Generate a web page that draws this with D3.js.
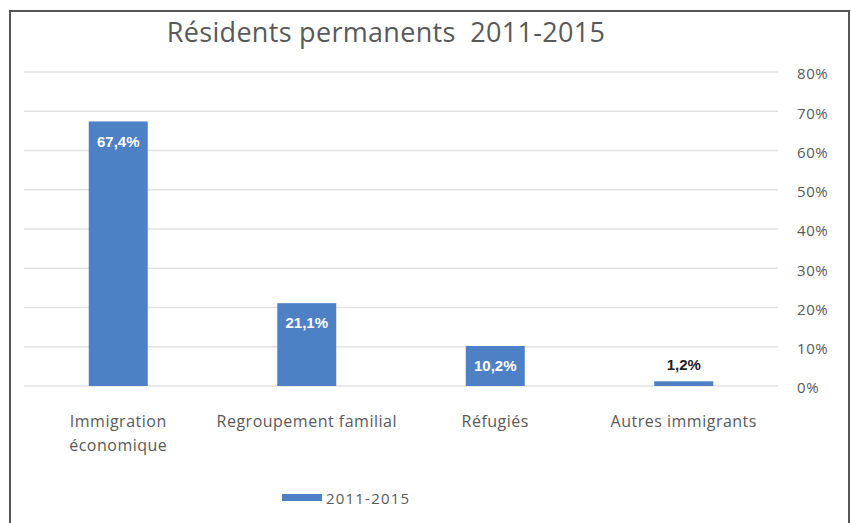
<!DOCTYPE html>
<html>
<head>
<meta charset="utf-8">
<script src="https://cdn.jsdelivr.net/npm/d3@7"></script>
<style>
  body { margin: 0; background: #fff; }
  text { font-family: "Open Sans", "Noto Sans", sans-serif; }
</style>
</head>
<body>
<div id="chart"></div>
<script>
// chart data
var categories = ["Immigration\néconomique", "Regroupement familial", "Réfugiés", "Autres immigrants"];
var values = [67.4, 21.1, 10.2, 1.2];
var valueLabels = ["67,4%", "21,1%", "10,2%", "1,2%"];
var tickValues = [0, 10, 20, 30, 40, 50, 60, 70, 80];
var seriesName = "2011-2015";
var title = "Résidents permanents\u00a0\u00a02011-2015";

var W = 851, H = 523;
var barColor = "#4e80c6";
var textColor = "#595959";

var svg = d3.select("#chart").append("svg")
  .attr("width", W)
  .attr("height", H);

// outer frame
svg.append("rect")
  .attr("x", 10).attr("y", 11)
  .attr("width", 839).attr("height", 530)
  .attr("fill", "none")
  .attr("stroke", "#555")
  .attr("stroke-width", 2);

// scales
var x = d3.scaleBand()
  .domain(categories)
  .range([24, 778])
  .paddingInner(0.687)
  .paddingOuter(0.3435);

var y = d3.scaleLinear()
  .domain([0, 80])
  .range([386, 72]);

// gridlines
svg.append("g")
  .selectAll("line")
  .data(tickValues)
  .enter().append("line")
    .attr("x1", 24).attr("x2", 778)
    .attr("y1", function(d) { return y(d); })
    .attr("y2", function(d) { return y(d); })
    .attr("stroke", "#e2e2e2")
    .attr("stroke-width", 1.5);

// right axis (labels only)
var yAxis = svg.append("g")
  .attr("transform", "translate(792,0)")
  .call(d3.axisRight(y).tickValues(tickValues).tickSize(0).tickFormat(function(d) { return d + "%"; }));
yAxis.select(".domain").remove();
yAxis.selectAll("text")
  .attr("x", 5)
  .attr("dy", "0.45em")
  .style("font-size", "15px")
  .style("letter-spacing", "0.6px")
  .style("fill", textColor)
  .style("font-family", "'Open Sans', sans-serif");

// bars
svg.append("g")
  .selectAll("rect")
  .data(values)
  .enter().append("rect")
    .attr("x", function(d, i) { return x(categories[i]); })
    .attr("width", x.bandwidth())
    .attr("y", function(d) { return y(d); })
    .attr("height", function(d) { return y(0) - y(d); })
    .attr("fill", barColor);

// value labels: inside the bar when tall enough, otherwise above
svg.append("g")
  .selectAll("text")
  .data(values)
  .enter().append("text")
    .attr("x", function(d, i) { return x(categories[i]) + x.bandwidth() / 2; })
    .attr("y", function(d) { return (y(0) - y(d) > 30) ? y(d) + 20 : y(d) - 17; })
    .attr("dy", "0.35em")
    .attr("text-anchor", "middle")
    .style("font-family", "'Liberation Sans', Arial, sans-serif")
    .style("font-weight", "bold")
    .style("font-size", "15px")
    .style("fill", function(d) { return (y(0) - y(d) > 30) ? "#fff" : "#222"; })
    .text(function(d, i) { return valueLabels[i]; });

// category labels
var catG = svg.append("g");
categories.forEach(function(c) {
  var lines = c.split("\n");
  var t = catG.append("text")
    .attr("text-anchor", "middle")
    .style("font-size", "16px")
    .style("letter-spacing", "0.5px")
    .style("fill", textColor);
  lines.forEach(function(l, j) {
    t.append("tspan")
      .attr("x", x(c) + x.bandwidth() / 2)
      .attr("y", 427 + j * 24)
      .text(l);
  });
});

// title
svg.append("text")
  .attr("x", 386)
  .attr("y", 42)
  .attr("text-anchor", "middle")
  .style("font-size", "27px")
  .style("letter-spacing", "0.3px")
  .style("fill", textColor)
  .text(title);

// legend
svg.append("rect")
  .attr("x", 282).attr("y", 494)
  .attr("width", 40).attr("height", 7)
  .attr("fill", barColor);
svg.append("text")
  .attr("x", 326).attr("y", 504)
  .style("font-size", "15px")
  .style("letter-spacing", "1.2px")
  .style("fill", textColor)
  .text(seriesName);
</script>
</body>
</html>
